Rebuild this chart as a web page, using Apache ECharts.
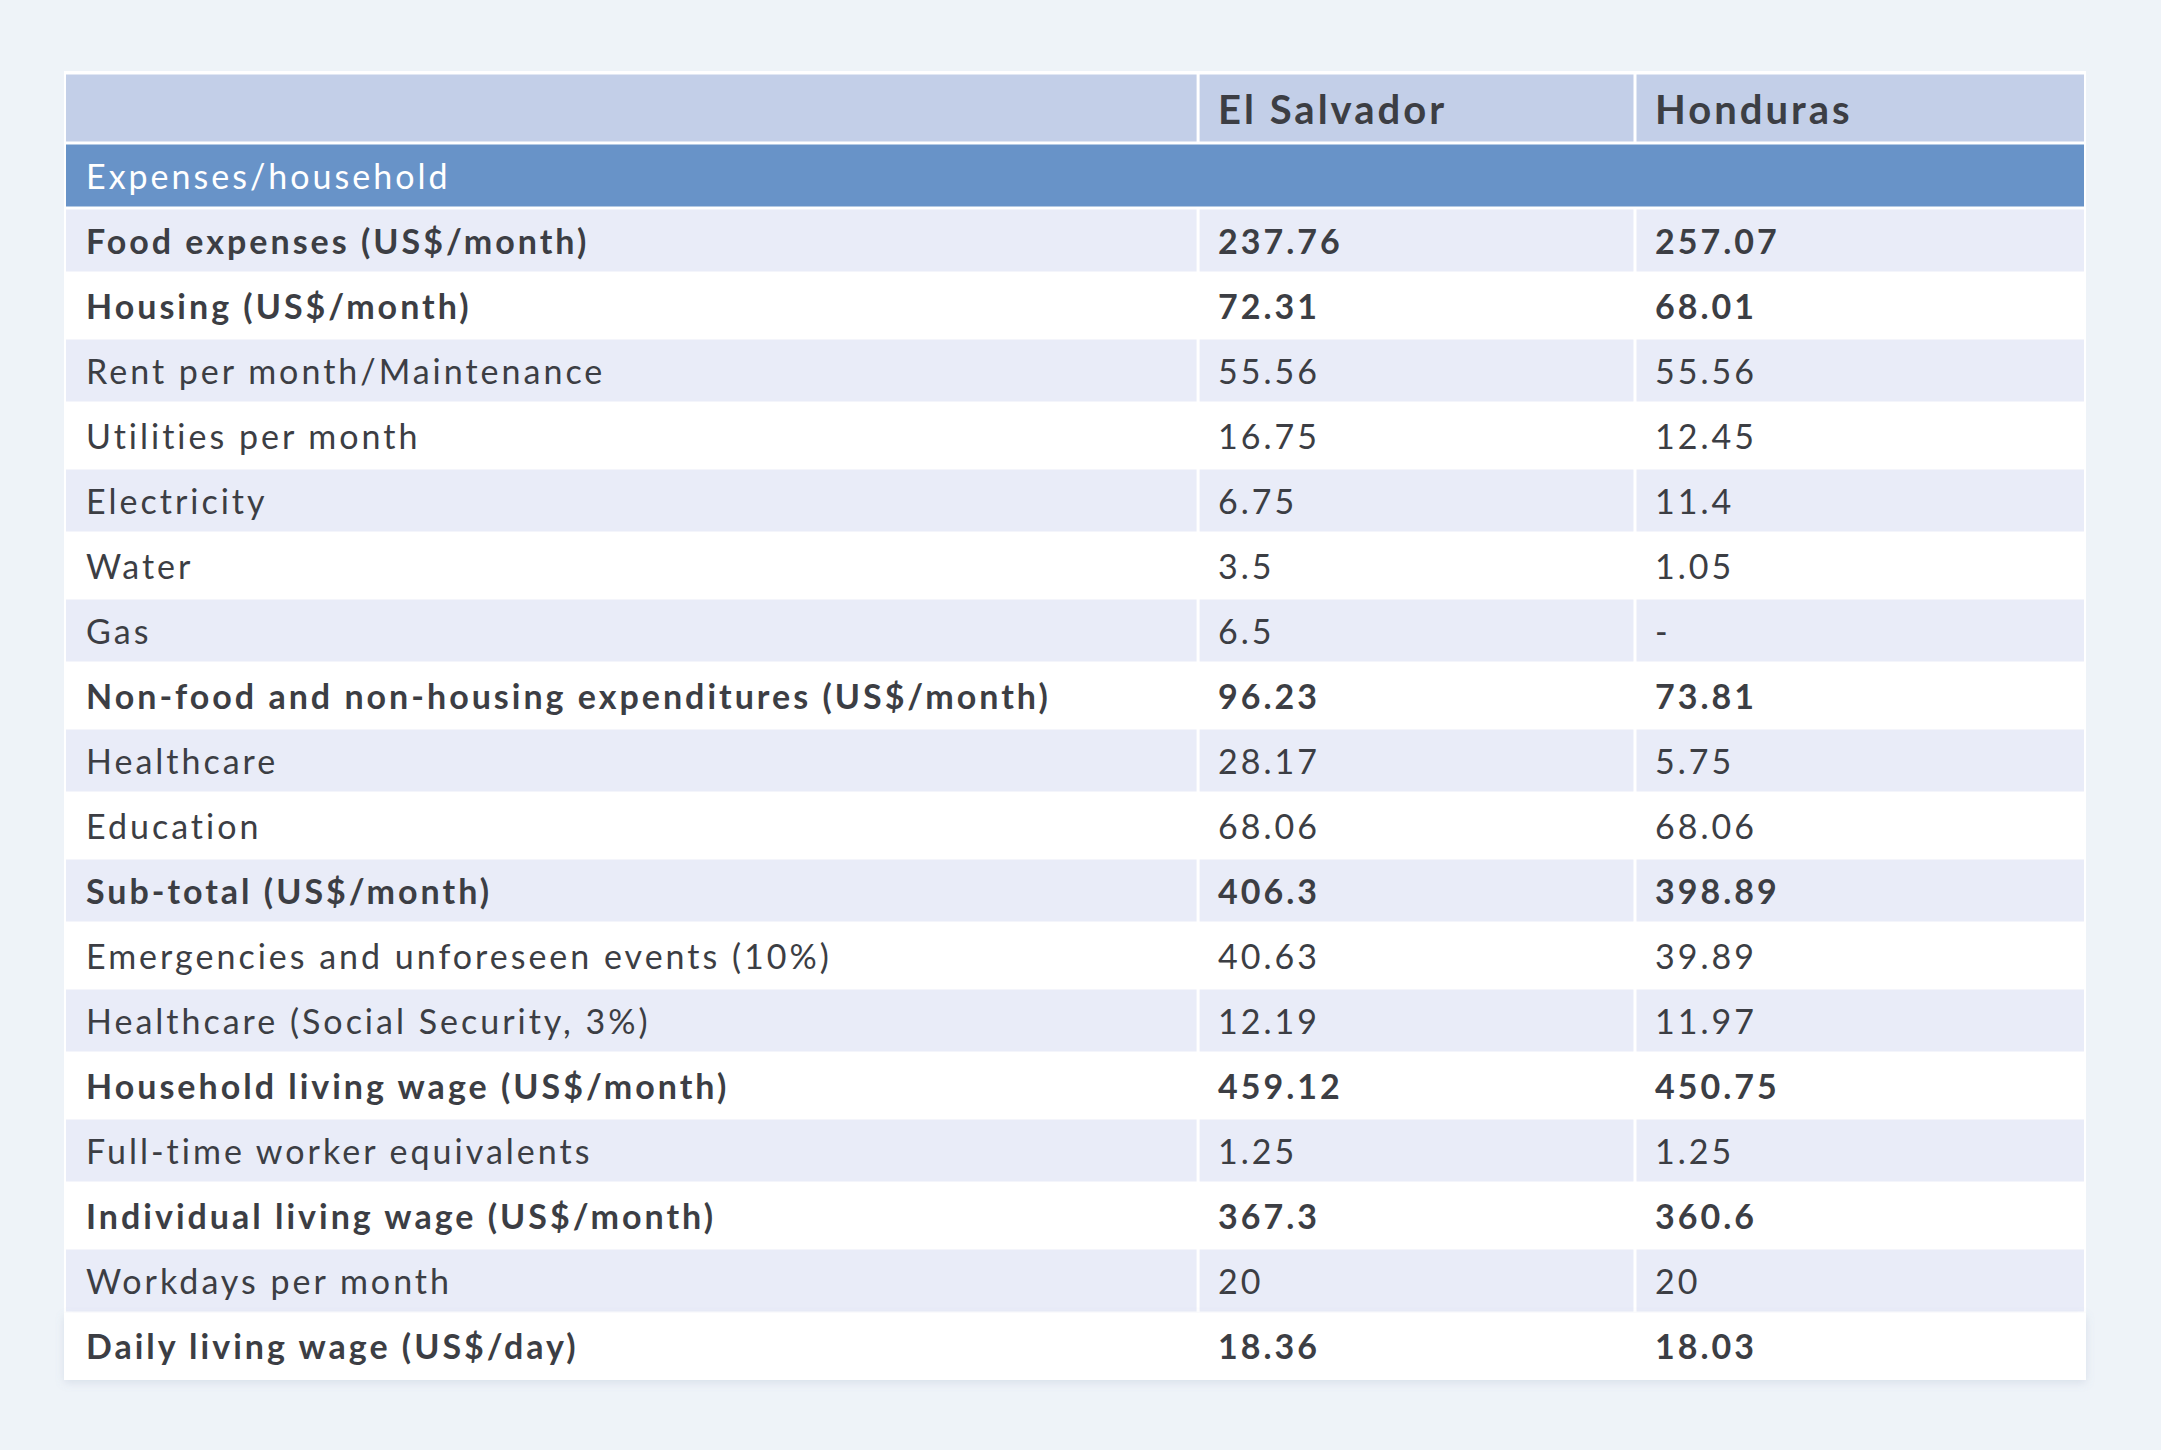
<!DOCTYPE html>
<html><head><meta charset="utf-8">
<script src="https://cdn.jsdelivr.net/npm/echarts@6/dist/echarts.min.js"></script>
<style>
html,body{margin:0;padding:0;background:#eef3f8;}
#chart{width:2161px;height:1450px;}
#chart text{letter-spacing:3px;}
</style></head><body><div id="chart"></div>
<script>
// ---- data ----
const columnHeaders = ["", "El Salvador", "Honduras"];
const sectionTitle = "Expenses/household";
const rowLabels = [
  "Food expenses (US$/month)",
  "Housing (US$/month)",
  "Rent per month/Maintenance",
  "Utilities per month",
  "Electricity",
  "Water",
  "Gas",
  "Non-food and non-housing expenditures (US$/month)",
  "Healthcare",
  "Education",
  "Sub-total (US$/month)",
  "Emergencies and unforeseen events (10%)",
  "Healthcare (Social Security, 3%)",
  "Household living wage (US$/month)",
  "Full-time worker equivalents",
  "Individual living wage (US$/month)",
  "Workdays per month",
  "Daily living wage (US$/day)"
];
const elSalvador = [237.76, 72.31, 55.56, 16.75, 6.75, 3.5, 6.5, 96.23, 28.17, 68.06, 406.3, 40.63, 12.19, 459.12, 1.25, 367.3, 20, 18.36];
const honduras   = [257.07, 68.01, 55.56, 12.45, 11.4, 1.05, null, 73.81, 5.75, 68.06, 398.89, 39.89, 11.97, 450.75, 1.25, 360.6, 20, 18.03];
const totalRows  = ["Food expenses (US$/month)", "Housing (US$/month)", "Non-food and non-housing expenditures (US$/month)",
  "Sub-total (US$/month)", "Household living wage (US$/month)", "Individual living wage (US$/month)", "Daily living wage (US$/day)"];

// ---- style ----
const FONT = 'Lato';
const TEXT = '#3c3e44';
const HEADER_BG = '#c3cfe8';
const SECTION_BG = '#6893c8';
const STRIPE_BG = '#e9ecf8';
const colEdges = [0, 0.561, 0.7775, 1];
const PAD = 20, GAP = 1.5;

const bodyCats = [sectionTitle].concat(rowLabels);
const fmt = v => (v === null || v === undefined) ? '-' : String(v);

function cellRects(cs, top, h, fill) {
  const out = [];
  for (let c = 0; c < 3; c++) {
    const x1 = cs.x + colEdges[c] * cs.width + (c === 0 ? 0 : GAP);
    const x2 = cs.x + colEdges[c + 1] * cs.width - (c === 2 ? 0 : GAP);
    out.push({type: 'rect', shape: {x: x1, y: top + GAP, width: x2 - x1, height: h - 2 * GAP}, style: {fill: fill}});
  }
  return out;
}
function cellText(cs, c, yc, text, size, weight, color) {
  return {type: 'text', style: {text: text, x: cs.x + colEdges[c] * cs.width + PAD, y: yc,
    fill: color, fontFamily: FONT, fontSize: size, fontWeight: weight, align: 'left', verticalAlign: 'middle'}};
}

function renderHeader(params, api) {
  const cs = params.coordSys;
  const yc = api.coord([0, api.value(1)])[1];
  const h = api.size([0, 1])[1];
  const top = yc - h / 2;
  const children = [{type: 'rect', shape: {x: cs.x - 2, y: top - 2, width: cs.width + 4, height: h + 2}, style: {fill: '#ffffff'}}];
  children.push.apply(children, cellRects(cs, top, h, HEADER_BG));
  for (let c = 1; c < 3; c++) children.push(cellText(cs, c, yc + 1, columnHeaders[c], 40, 'bold', TEXT));
  return {type: 'group', children: children};
}

function renderBody(params, api) {
  const cs = params.coordSys;
  const i = api.value(1);
  const yc = api.coord([0, i])[1];
  const h = api.size([0, 1])[1];
  const top = yc - h / 2;
  const last = i === bodyCats.length - 1;
  const backing = {type: 'rect', shape: {x: cs.x - 2, y: top, width: cs.width + 4, height: h + (last ? 2 : 0)}, style: {fill: '#ffffff'}};
  if (last) { backing.style.shadowBlur = 8; backing.style.shadowOffsetY = 3; backing.style.shadowColor = 'rgba(120,140,170,0.18)'; }
  const children = [backing];
  if (i === 0) {
    children.push({type: 'rect', shape: {x: cs.x, y: top + GAP, width: cs.width, height: h - 2 * GAP}, style: {fill: SECTION_BG}});
    children.push(cellText(cs, 0, yc, sectionTitle, 34, 'normal', '#ffffff'));
  } else {
    const r = i - 1;
    const fill = r % 2 === 0 ? STRIPE_BG : '#ffffff';
    children.push.apply(children, cellRects(cs, top, h, fill));
    const w = totalRows.indexOf(rowLabels[r]) >= 0 ? 'bold' : 'normal';
    children.push(cellText(cs, 0, yc, rowLabels[r], 34, w, TEXT));
    children.push(cellText(cs, 1, yc, fmt(elSalvador[r]), 34, w, TEXT));
    children.push(cellText(cs, 2, yc, fmt(honduras[r]), 34, w, TEXT));
  }
  return {type: 'group', children: children};
}

const chart = echarts.init(document.getElementById('chart'), null, {renderer: 'svg'});
chart.setOption({
  backgroundColor: '#eef3f8',
  animation: false,
  grid: [
    {left: 66, right: 77, top: 73, height: 70},
    {left: 66, right: 77, top: 143, bottom: 72}
  ],
  xAxis: [
    {type: 'value', gridIndex: 0, min: 0, max: 1, show: false},
    {type: 'value', gridIndex: 1, min: 0, max: 1, show: false}
  ],
  yAxis: [
    {type: 'category', gridIndex: 0, inverse: true, data: ['header'], show: false},
    {type: 'category', gridIndex: 1, inverse: true, data: bodyCats, show: false}
  ],
  series: [
    {type: 'custom', xAxisIndex: 0, yAxisIndex: 0, renderItem: renderHeader, data: [[0, 0]], silent: true},
    {type: 'custom', xAxisIndex: 1, yAxisIndex: 1, renderItem: renderBody,
     data: bodyCats.map((_, i) => [0, i]), silent: true}
  ]
});
</script></body></html>
